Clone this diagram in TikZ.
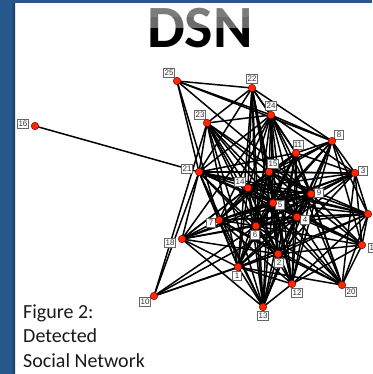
\documentclass[tikz,border=0pt]{standalone}
\usepackage{fontspec}
\setmainfont{Carlito}
\newfontfamily\labelfont{Liberation Sans}
\pgfdeclarelayer{edges}
\pgfsetlayers{edges,main}
\definecolor{frameblue}{RGB}{38,88,140}
\definecolor{frameshade}{RGB}{22,56,92}
\definecolor{vertexred}{RGB}{255,40,0}
\tikzset{
  vertex/.style={circle, fill=vertexred, draw=red!50!black, line width=0.5pt,
                 inner sep=0pt, minimum size=7.5pt},
  vlabel/.style={rectangle, draw=black!60, fill=white, line width=0.7pt,
                 inner sep=0.8pt, minimum height=9pt, minimum width=9pt,
                 text=black!80, font=\labelfont\fontsize{8}{8}\selectfont},
  link/.style={line width=1.5pt, black},
  titlefont/.style={font=\fontsize{60}{60}\selectfont\bfseries, inner sep=0pt},
  captext/.style={font=\fontsize{20}{24}\selectfont, text=black!90, inner sep=0pt, anchor=base west}
}
\begin{document}
\begin{tikzpicture}[x=1pt, y=-1pt]
\useasboundingbox (0,0) rectangle (372,374);
% frame
\fill[frameblue] (0,0) rectangle (372,3.5);
\fill[frameblue] (0,0) rectangle (15,374);
\shade[left color=frameblue, right color=frameshade] (11,3.5) rectangle (15,374);

% title: black letters, upper half washed to grey
\node[titlefont, text=black, anchor=base] (title) at (200,48) {DSN};
\fill[white, opacity=0.42] (140,4) rectangle (262,28);
\fill[white, opacity=0.12] (140,4) rectangle (262,17);

% vertices: name/x/y/label dx/label dy
\foreach \n/\x/\y/\dx/\dy in {
  1/238/267/-1/9, 2/278/254/1/9, 3/355/173/8/-2, 4/297/217/8/3,
  5/273/203/7/2, 6/256/226/-1/9, 7/219/220/-8/3, 8/332/141/7/-6,
  9/311/194/8/-1, 10/154/296/-9/6, 11/296/153/2/-8, 12/292/284/5/9,
  13/263/307/0/9, 14/248/188/-8/-6, 15/269/172/4/-8, 16/35/126/-12/-2,
  17/362/245/12/3, 18/182/239/-12/4, 19/368/214/12/1, 20/342/285/9/7,
  21/199/172/-12/-3, 22/252/88/0/-9, 23/207/123/-7/-8, 24/271/115/0/-9,
  25/177/81/-8/-8}
{
  \node[vlabel] (l\n) at (\x+\dx,\y+\dy) {\n};
  \node[vertex] (v\n) at (\x,\y) {};
}

% connections
\begin{pgfonlayer}{edges}
\foreach \a/\b in {
  16/21,
  25/22, 25/24, 25/21, 25/7, 25/9, 25/8,
  22/23, 22/21, 22/24, 22/8, 22/11, 22/15, 22/5, 22/6, 22/2, 22/1, 22/13, 22/14, 22/12,
  23/24, 23/21, 23/14, 23/5, 23/6, 23/9, 23/4, 23/2, 23/1, 23/13, 23/15, 23/10,
  24/11, 24/8, 24/3, 24/15, 24/14, 24/9, 24/5, 24/4, 24/6, 24/2, 24/12, 24/7, 24/21, 24/20, 24/18,
  21/15, 21/14, 21/3, 21/9, 21/5, 21/6, 21/7, 21/1, 21/18, 21/10, 21/13, 21/2, 21/4, 21/11, 21/19,
  8/11, 8/3, 8/9, 8/4, 8/15, 8/14, 8/19, 8/5, 8/2, 8/6, 8/12, 8/17,
  11/15, 11/3, 11/9, 11/5, 11/14, 11/6, 11/2, 11/4, 11/7, 11/1, 11/12, 11/13, 11/20,
  3/15, 3/9, 3/4, 3/19, 3/17, 3/5, 3/14, 3/6, 3/7, 3/2, 3/20,
  15/14, 15/5, 15/9, 15/4, 15/6, 15/7, 15/2, 15/1, 15/13, 15/12, 15/19, 15/18, 15/17,
  14/5, 14/9, 14/4, 14/6, 14/7, 14/2, 14/1, 14/13, 14/12, 14/19, 14/17, 14/20, 14/18,
  9/5, 9/4, 9/6, 9/7, 9/2, 9/1, 9/19, 9/17, 9/20, 9/12, 9/13, 9/18,
  5/4, 5/6, 5/7, 5/2, 5/1, 5/13, 5/12, 5/19, 5/17, 5/20, 5/18,
  4/6, 4/7, 4/2, 4/1, 4/19, 4/17, 4/20, 4/12, 4/13, 4/18, 4/10,
  6/7, 6/2, 6/1, 6/13, 6/12, 6/19, 6/20, 6/18, 6/10, 6/17,
  7/2, 7/1, 7/13, 7/12, 7/18, 7/19, 7/20,
  2/1, 2/13, 2/12, 2/19, 2/17, 2/20, 2/18, 2/10,
  1/13, 1/12, 1/20, 1/18, 1/10, 1/19,
  12/13, 12/19, 12/17,
  19/17, 19/20, 17/20, 13/18}
  \draw[link] (v\a.center) -- (v\b.center);
\end{pgfonlayer}

% caption
\node[captext] (cap1) at (23,318) {Figure 2:};
\node[captext] (cap2) at (23,342.5) {Detected};
\node[captext] (cap3) at (23,367) {Social Network};
\end{tikzpicture}
\end{document}
